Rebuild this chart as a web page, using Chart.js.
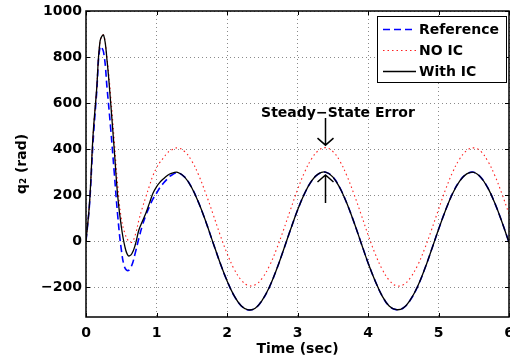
<!DOCTYPE html>
<html>
<head>
<meta charset="utf-8">
<script src="https://cdn.jsdelivr.net/npm/chart.js@4.4.1/dist/chart.umd.min.js"></script>
<style>
html,body{margin:0;padding:0;background:#fff;}
canvas{display:block;}
</style>
</head>
<body>
<canvas id="c" width="510" height="358"></canvas>
<script>
// ---- data ----
const time = [0,0.05,0.1,0.15,0.2,0.25,0.3,0.35,0.4,0.45,0.5,0.55,0.6,0.65,0.7,0.75,0.8,0.85,0.9,0.95,1.0,1.05,1.1,1.15,
  1.2,1.3,1.4,1.5,1.6,1.7,1.8,1.9,2.0,2.1,2.2,2.3,2.4,2.5,2.6,2.7,2.8,2.9,3.0,3.1,3.2,3.3,
  3.4,3.5,3.6,3.7,3.8,3.9,4.0,4.1,4.2,4.3,4.4,4.5,4.6,4.7,4.8,4.9,5.0,5.1,5.2,5.3,5.4,
  5.5,5.6,5.7,5.8,5.9,6.0];

const reference = [0,160,430,640,845,820,660,490,300,110,-35,-115,-128,-105,-50,12,68,113,150,183,208,233,252,269,
  284,296,278,232,165,84,-5,-93,-172,-237,-281,-299,-292,-257,-201,-126,-40,49,134,206,261,292,
  299,279,232,164,83,-6,-94,-172,-238,-282,-298,-291,-256,-200,-125,-39,50,134,207,261,292,
  299,277,231,164,83,-6];

const noIC = [0,165,460,660,870,895,790,630,440,240,100,35,2,-5,28,91,145,193,240,285,318,343,362,382,
  394,405,389,348,285,206,119,29,-53,-121,-169,-193,-190,-161,-109,-37,47,136,223,299,358,394,
  406,390,348,284,205,118,28,-54,-122,-170,-194,-190,-160,-108,-36,48,137,224,299,357,393,
  405,390,347,284,205,118];

const withIC = [0,165,460,655,870,895,780,600,400,195,65,-22,-64,-55,-15,48,86,122,165,208,236,256,271,284,
  293,299,278,232,165,84,-5,-93,-172,-237,-281,-299,-292,-257,-201,-126,-40,49,134,207,262,293,
  300,279,232,164,83,-6,-94,-172,-238,-282,-298,-291,-256,-200,-125,-39,50,134,207,261,292,
  299,277,231,164,83,-6];

const seriesLabels = ['Reference','NO IC','With IC'];
const xTicks = [0,1,2,3,4,5,6];
const yTicks = [-200,0,200,400,600,800,1000];
const xLabel = 'Time (sec)';
const yLabel = 'q\u2082 (rad)';
const annotationText = 'Steady\u2212State Error';

// ---- chart ----
const FONT = 'DejaVu Sans';
const pts = arr => time.map((t,i)=>({x:t,y:arr[i]}));
const fmt = v => v < 0 ? '\u2212' + Math.abs(v) : String(v);

const framePlugin = {
  id:'frame',
  afterDatasetsDraw(chart){
    const ctx = chart.ctx;
    const xs = chart.scales.x, ys = chart.scales.y;
    ctx.save();
    const ax = Math.round(xs.getPixelForValue(3.39)) + 0.5;
    ctx.strokeStyle = '#000'; ctx.lineWidth = 1.5;
    const dTop = ys.getPixelForValue(535), dTip = ys.getPixelForValue(417);
    const uTip = ys.getPixelForValue(287), uBot = ys.getPixelForValue(165);
    ctx.beginPath();
    ctx.moveTo(ax, dTop); ctx.lineTo(ax, dTip);
    ctx.moveTo(ax-8, dTip-7); ctx.lineTo(ax, dTip); ctx.lineTo(ax+8, dTip-7);
    ctx.moveTo(ax, uBot); ctx.lineTo(ax, uTip);
    ctx.moveTo(ax-8, uTip+7); ctx.lineTo(ax, uTip); ctx.lineTo(ax+8, uTip+7);
    ctx.stroke();
    ctx.fillStyle = '#000';
    ctx.font = 'bold 14px "' + FONT + '"';
    ctx.textAlign = 'center'; ctx.textBaseline = 'middle';
    ctx.fillText(annotationText, xs.getPixelForValue(3.574), ys.getPixelForValue(557));
    ctx.restore();
  },
  afterDraw(chart){
    const ctx = chart.ctx, a = chart.chartArea;
    const xs = chart.scales.x, ys = chart.scales.y;
    ctx.save();
    ctx.strokeStyle = '#000';
    ctx.lineWidth = 1.5;
    ctx.strokeRect(a.left, a.top, a.right - a.left, a.bottom - a.top);
    ctx.lineWidth = 1;
    ctx.beginPath();
    xTicks.forEach(v=>{
      const px = Math.round(xs.getPixelForValue(v)) + 0.5;
      ctx.moveTo(px, a.bottom); ctx.lineTo(px, a.bottom - 4);
      ctx.moveTo(px, a.top); ctx.lineTo(px, a.top + 4);
    });
    yTicks.forEach(v=>{
      const py = Math.round(ys.getPixelForValue(v)) + 0.5;
      ctx.moveTo(a.left, py); ctx.lineTo(a.left + 4, py);
      ctx.moveTo(a.right, py); ctx.lineTo(a.right - 4, py);
    });
    ctx.stroke();
    // legend box
    const bx = 377, by = 16, bw = 129, bh = 66;
    ctx.fillStyle = '#fff';
    ctx.fillRect(bx, by, bw, bh);
    ctx.lineWidth = 1;
    ctx.strokeRect(bx + 0.5, by + 0.5, bw, bh);
    ctx.font = 'bold 14px "' + FONT + '"';
    ctx.textAlign = 'left'; ctx.textBaseline = 'middle';
    const rows = [29, 50, 71];
    chart.data.datasets.forEach((ds, i)=>{
      const y = rows[i] + 0.5;
      ctx.save();
      ctx.strokeStyle = ds.borderColor;
      ctx.lineWidth = ds.borderWidth;
      ctx.setLineDash(ds.borderDash || []);
      ctx.beginPath(); ctx.moveTo(383, y); ctx.lineTo(416, y); ctx.stroke();
      ctx.restore();
      ctx.fillStyle = '#000';
      ctx.fillText(ds.label, 419, rows[i] + 1);
    });
    ctx.restore();
  }
};

const tickFont = {family: FONT, size: 14, weight: 'bold'};

new Chart(document.getElementById('c'), {
  type: 'line',
  data: {
    datasets: [
      {label: seriesLabels[0], data: pts(reference), borderColor: '#0000ff', borderWidth: 1.6, borderDash: [7,4], pointRadius: 0, tension: 0.4, fill: false, order: 3},
      {label: seriesLabels[1], data: pts(noIC), borderColor: '#ff2020', borderWidth: 1.1, borderDash: [1.5,3], pointRadius: 0, tension: 0.4, fill: false, order: 2},
      {label: seriesLabels[2], data: pts(withIC), borderColor: '#000000', borderWidth: 1.3, pointRadius: 0, tension: 0.4, fill: false, order: 1}
    ]
  },
  options: {
    responsive: false,
    animation: false,
    devicePixelRatio: 1,
    layout: {padding: {top: 11, right: 1, left: 0, bottom: 0}},
    plugins: {legend: {display: false}, tooltip: {enabled: false}},
    scales: {
      x: {
        type: 'linear', min: 0, max: 6,
        afterBuildTicks(s){ s.ticks = xTicks.map(v=>({value:v})); },
        ticks: {font: tickFont, color: '#000', padding: 8, maxRotation: 0, callback: fmt},
        grid: {color: '#8a8a8a', lineWidth: 1, drawTicks: false},
        border: {display: false, dash: [1,3]},
        title: {display: true, text: xLabel, color: '#000', font: tickFont, padding: {top: 1.6, bottom: 0}},
        afterFit(s){ s.height = 41; s.paddingLeft = 0; s.paddingRight = 0; }
      },
      y: {
        type: 'linear', min: -330, max: 1000,
        afterBuildTicks(s){ s.ticks = yTicks.map(v=>({value:v})); },
        ticks: {font: tickFont, color: '#000', padding: 4, callback: fmt},
        grid: {color: '#8a8a8a', lineWidth: 1, drawTicks: false},
        border: {display: false, dash: [1,3]},
        title: {display: true, text: yLabel, color: '#000', font: tickFont, padding: {top: 13.6, bottom: 0}},
        afterFit(s){ s.width = 86; s.paddingTop = 0; s.paddingBottom = 0; }
      }
    }
  },
  plugins: [framePlugin]
});
</script>
</body>
</html>
